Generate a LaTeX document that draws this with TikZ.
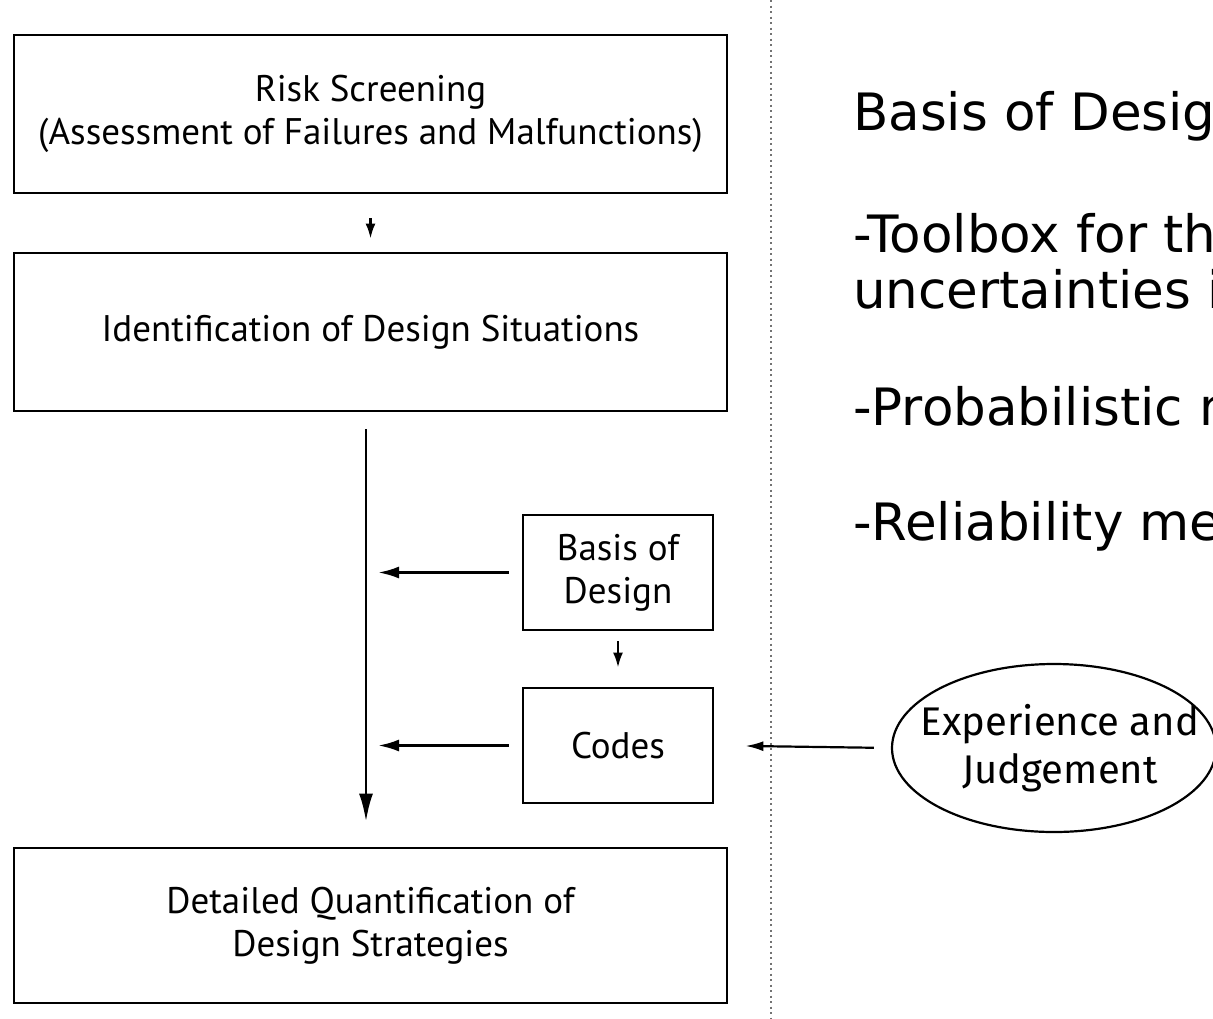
\documentclass[tikz,border=0pt]{standalone}
\usepackage{fontspec}
\setmainfont{PT Sans}
\newfontfamily\notefont{DejaVu Sans}
\newfontfamily\bubblefont{Fira Sans}
\usetikzlibrary{arrows.meta,shapes.geometric}

\tikzset{
  flowbox/.style={draw, line width=2.8pt, rectangle, inner sep=0pt, align=center,
    font=\fontsize{37}{43}\selectfont},
  arr/.style={line width=2.8pt, -{Latex[length=21pt,width=12pt]}},
  longarr/.style={line width=2.8pt, -{Latex[length=28pt,width=14pt]}},
  smallarr/.style={line width=2.4pt, -{Latex[length=15pt,width=10pt]}},
  divider/.style={draw=black!55, line width=2pt, dash pattern=on 2pt off 3.5pt},
  notetext/.style={anchor=base west, inner sep=0pt, font=\notefont\fontsize{51.5}{56}\selectfont},
  bubble/.style={draw, ellipse, line width=2.2pt, inner sep=0pt,
    minimum width=324pt, minimum height=168pt},
  bubbletext/.style={align=center, inner sep=0pt,
    font=\bubblefont\fontsize{40}{48}\selectfont}
}

\begin{document}
\begin{tikzpicture}[x=1pt, y=-1pt]
  \useasboundingbox (0,0) rectangle (1213,1018);
  \clip (0,0) rectangle (1213,1018);

  % separator between the flow chart and the notes
  \draw[divider] (771,0) -- (771,1018);

  % main flow boxes
  \node[flowbox, minimum width=713pt, minimum height=158pt] (risk) at (370.5,114)
    {Risk Screening\\(Assessment of Failures and Malfunctions)};
  \node[flowbox, minimum width=713pt, minimum height=158pt] (ident) at (370.5,332)
    {Identification of Design Situations};
  \node[flowbox, minimum width=713pt, minimum height=155pt] (quant) at (370.5,925.5)
    {Detailed Quantification of\\Design Strategies};

  % side boxes
  \node[flowbox, minimum width=190pt, minimum height=115pt] (bod) at (618,572.5)
    {Basis of\\Design};
  \node[flowbox, minimum width=190pt, minimum height=115pt] (codes) at (618,745.5)
    {Codes};

  % experience bubble
  \node[bubble] (exp) at (1054,748) {};
  \node[bubbletext] (explabel) at ([xshift=6pt]exp.center) {Experience and\\Judgement};

  % vertical spine of the flow
  \coordinate (spine) at (366,0);

  % connectors
  \draw[smallarr, shorten <=24pt, shorten >=13pt] (risk.south) -- (ident.north);
  \draw[longarr, shorten <=17pt, shorten >=25pt] (ident.south -| spine) -- (quant.north -| spine);
  \draw[arr, shorten <=13pt, shorten >=12pt] (bod.west) -- (bod.west -| spine);
  \draw[arr, shorten <=13pt, shorten >=12pt] (codes.west) -- (codes.west -| spine);
  \draw[smallarr, shorten <=10pt, shorten >=19pt] (bod.south) -- (codes.north);
  \draw[line width=2.2pt, -{Latex[length=18pt,width=10pt]}, shorten <=17pt, shorten >=31pt]
    (exp.west) -- (codes.east);

  % notes on the right
  \node[notetext] (n1) at (853,130) {Basis of Desig};
  \node[notetext] (n2) at (853,252) {-Toolbox for the};
  \node[notetext] (n3) at (853,308) {uncertainties in};
  \node[notetext] (n4) at (853,425) {-Probabilistic m};
  \node[notetext] (n5) at (853,540) {-Reliability met};
\end{tikzpicture}
\end{document}
